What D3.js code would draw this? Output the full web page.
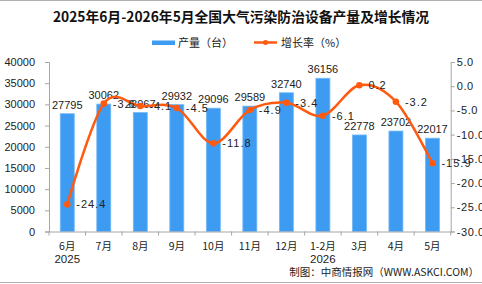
<!DOCTYPE html>
<html>
<head>
<meta charset="utf-8">
<script src="https://cdn.jsdelivr.net/npm/d3@7"></script>
<style>
body { margin: 0; background: #fff; }
svg { display: block; font-family: "Liberation Sans Narrow", "Liberation Sans", "Noto Sans CJK SC", sans-serif; }
</style>
</head>
<body>
<svg id="chart" width="482" height="284"></svg>
<script>
var months = ["6月", "7月", "8月", "9月", "10月", "11月", "12月", "1-2月", "3月", "4月", "5月"];
var years = ["2025", "", "", "", "", "", "", "2026", "", "", ""];
var output_values = [27795, 30062, 28067, 29932, 29096, 29589, 32740, 36156, 22778, 23702, 22017];
var growth_values = [-24.4, -3.6, -4.1, -4.5, -11.8, -4.9, -3.4, -6.1, 0.2, -3.2, -15.9];
var left_ticks = [0, 5000, 10000, 15000, 20000, 25000, 30000, 35000, 40000];
var right_ticks = [5, 0, -5, -10, -15, -20, -25, -30];

var bar_color = "#3d9cf2";
var line_color = "#ff5a10";
var axis_color = "#a6a6a6";
var num_font = "'Liberation Sans Narrow', 'Liberation Sans', sans-serif";
var cjk_font = "'Noto Sans CJK SC', sans-serif";

var svg = d3.select("#chart");
var plot_left = 49, plot_right = 450.7, plot_top = 62, plot_bottom = 231.5;

// frame lines top and bottom
svg.append("line").attr("x1", 0).attr("x2", 482).attr("y1", 0.5).attr("y2", 0.5)
    .attr("stroke", "#b0b0b0").attr("stroke-width", 1);
svg.append("line").attr("x1", 0).attr("x2", 482).attr("y1", 282.5).attr("y2", 282.5)
    .attr("stroke", "#b0b0b0").attr("stroke-width", 1);

svg.append("text").attr("x", 241).attr("y", 22).attr("text-anchor", "middle")
    .attr("font-size", 13.8).attr("font-weight", "bold").attr("fill", "#111")
    .attr("font-family", cjk_font)
    .text("2025年6月-2026年5月全国大气污染防治设备产量及增长情况");

// legend
svg.append("rect").attr("x", 152).attr("y", 40.5).attr("width", 23).attr("height", 4.5).attr("fill", bar_color);
svg.append("text").attr("x", 178).attr("y", 46.5).attr("font-size", 11).attr("fill", "#222")
    .attr("font-family", cjk_font).text("产量（台）");
svg.append("line").attr("x1", 254).attr("x2", 277).attr("y1", 42.5).attr("y2", 42.5)
    .attr("stroke", line_color).attr("stroke-width", 2.5);
svg.append("circle").attr("cx", 265.5).attr("cy", 42.5).attr("r", 2.5).attr("fill", line_color);
svg.append("text").attr("x", 281).attr("y", 46.5).attr("font-size", 11).attr("fill", "#222")
    .attr("font-family", cjk_font).text("增长率（%）");

var x = d3.scaleBand().domain(months).range([plot_left, plot_right]).paddingInner(0).paddingOuter(0);
var y_left = d3.scaleLinear().domain([0, 40000]).range([plot_bottom, plot_top]);
var y_right = d3.scaleLinear().domain([-30, 5]).range([plot_bottom, plot_top]);

// left axis
var left_axis = svg.append("g").attr("transform", "translate(" + plot_left + ",0)")
    .call(d3.axisLeft(y_left).tickValues(left_ticks).tickSize(4).tickPadding(10).tickFormat(d3.format("d")));
// right axis
var right_axis = svg.append("g").attr("transform", "translate(" + plot_right + ",0)")
    .call(d3.axisRight(y_right).tickValues(right_ticks).tickSize(4).tickPadding(2).tickFormat(d3.format(".1f")));
[left_axis, right_axis].forEach(function(axis)
{
    axis.select(".domain").attr("stroke", axis_color);
    axis.selectAll(".tick line").attr("stroke", axis_color);
    axis.selectAll("text").attr("font-size", 11).attr("fill", "#222").attr("font-family", num_font);
});
right_axis.selectAll("text").text(function(d) { return d3.format(".1f")(d).replace("−", "-"); })
    .attr("letter-spacing", 0.6);

// bars
var bar_width = 14;
svg.append("g").selectAll("rect").data(output_values).enter().append("rect")
    .attr("x", function(d, i) { return x(months[i]) + x.bandwidth() / 2 - bar_width / 2; })
    .attr("y", function(d) { return y_left(d); })
    .attr("width", bar_width)
    .attr("height", function(d) { return plot_bottom - y_left(d); })
    .attr("fill", bar_color)
    .attr("stroke", "#74b8f5").attr("stroke-width", 0.8);

// bottom axis
var bottom_axis = svg.append("g").attr("transform", "translate(0," + plot_bottom + ")")
    .call(d3.axisBottom(x).tickSize(0).tickFormat(""));
bottom_axis.select(".domain").attr("stroke", axis_color);
bottom_axis.selectAll(".tick").remove();
var bounds = d3.range(months.length + 1).map(function(i) { return plot_left + i * x.bandwidth(); });
svg.append("g").selectAll("line").data(bounds).enter().append("line")
    .attr("x1", function(d) { return d; }).attr("x2", function(d) { return d; })
    .attr("y1", plot_bottom).attr("y2", plot_bottom + 4).attr("stroke", axis_color);

var x_labels = svg.append("g").attr("font-size", 10.5).attr("fill", "#222")
    .attr("font-family", cjk_font).attr("text-anchor", "middle");
x_labels.selectAll("text.month").data(months).enter().append("text")
    .attr("x", function(d) { return x(d) + x.bandwidth() / 2; })
    .attr("y", 250).text(function(d) { return d; });
x_labels.selectAll("text.year").data(years).enter().append("text")
    .attr("x", function(d, i) { return x(months[i]) + x.bandwidth() / 2; })
    .attr("y", 262.5).attr("font-family", num_font).attr("font-size", 11.5).text(function(d) { return d; });

// bar value labels
svg.append("g").selectAll("text").data(output_values).enter().append("text")
    .attr("x", function(d, i) { return x(months[i]) + x.bandwidth() / 2; })
    .attr("y", function(d) { return y_left(d) - 5; })
    .attr("text-anchor", "middle").attr("font-size", 11).attr("fill", "#222")
    .attr("font-family", num_font)
    .text(function(d) { return d; });

// growth line
var line = d3.line()
    .x(function(d, i) { return x(months[i]) + x.bandwidth() / 2; })
    .y(function(d) { return y_right(d); })
    .curve(d3.curveCardinal.tension(0));
svg.append("path").datum(growth_values).attr("d", line)
    .attr("fill", "none").attr("stroke", line_color).attr("stroke-width", 2.5);
svg.append("g").selectAll("circle").data(growth_values).enter().append("circle")
    .attr("cx", function(d, i) { return x(months[i]) + x.bandwidth() / 2; })
    .attr("cy", function(d) { return y_right(d); })
    .attr("r", 3.3).attr("fill", line_color);
svg.append("g").selectAll("text").data(growth_values).enter().append("text")
    .attr("x", function(d, i) { return x(months[i]) + x.bandwidth() / 2 + 9; })
    .attr("y", function(d) { return y_right(d) + 4; })
    .attr("font-size", 11).attr("fill", "#222").attr("font-family", num_font)
    .attr("letter-spacing", 1)
    .text(function(d) { return d3.format(".1f")(d).replace("−", "-"); });

svg.append("text").attr("x", 479).attr("y", 276).attr("text-anchor", "end")
    .attr("font-size", 10.5).attr("fill", "#222")
    .attr("font-family", cjk_font)
    .text("制图：中商情报网（WWW.ASKCI.COM）");
</script>
</body>
</html>
